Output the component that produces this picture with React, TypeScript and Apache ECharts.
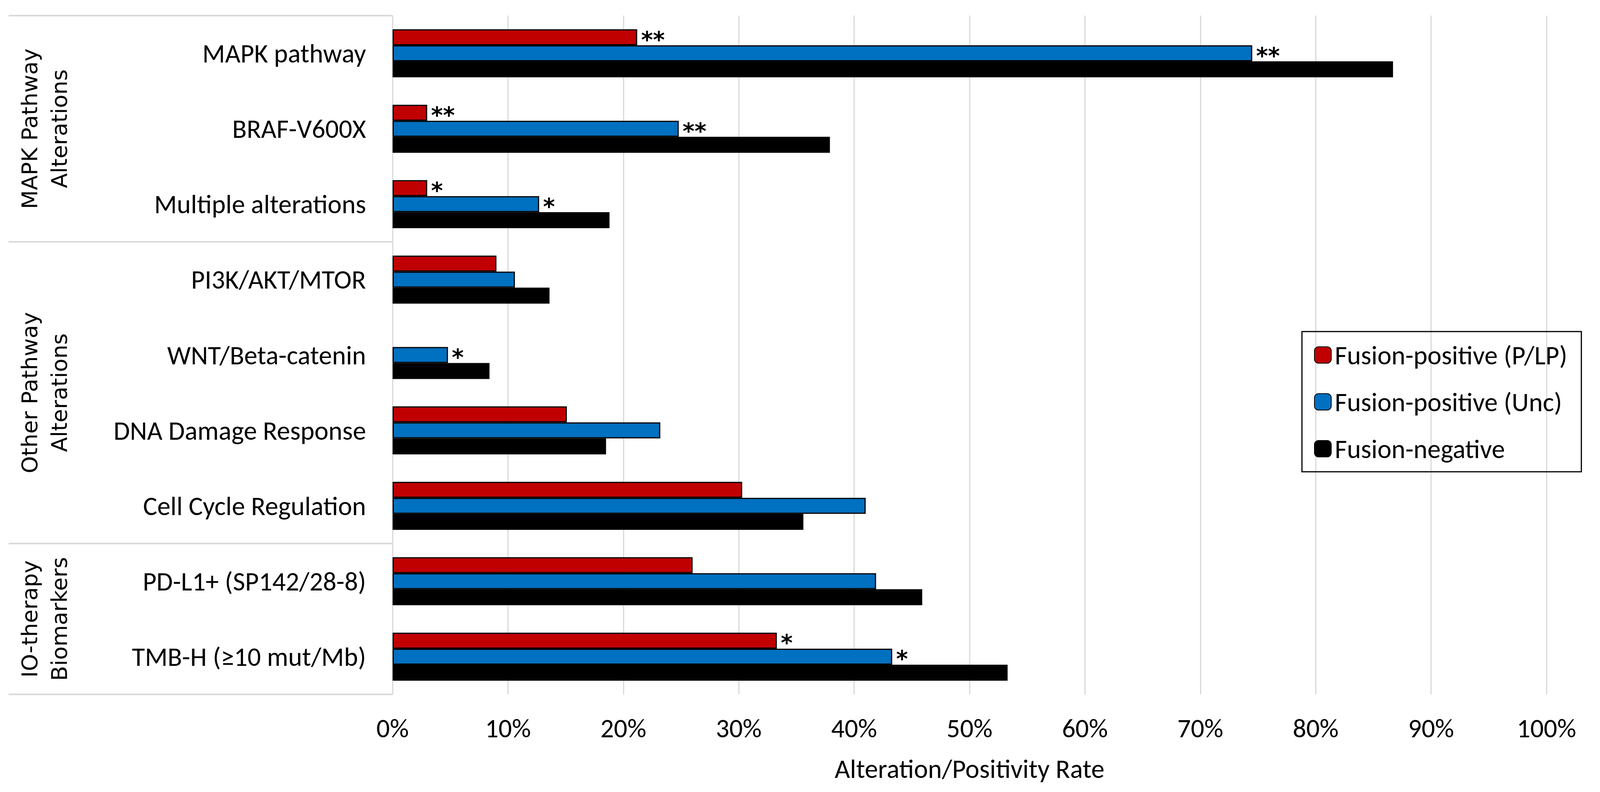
import React, { useEffect, useRef } from "react";
import * as echarts from "echarts";

const categories = [
  "MAPK pathway",
  "BRAF-V600X",
  "Multiple alterations",
  "PI3K/AKT/MTOR",
  "WNT/Beta-catenin",
  "DNA Damage Response",
  "Cell Cycle Regulation",
  "PD-L1+ (SP142/28-8)",
  "TMB-H (≥10 mut/Mb)",
];
const seriesNames = ["Fusion-positive (P/LP)", "Fusion-positive (Unc)", "Fusion-negative"];
const fusionPosPLP: (number | null)[] = [21.2, 3.0, 3.0, 9.0, null, 15.1, 30.3, 26.0, 33.3];
const fusionPosUnc: (number | null)[] = [74.5, 24.8, 12.7, 10.6, 4.8, 23.2, 41.0, 41.9, 43.3];
const fusionNeg: (number | null)[] = [86.7, 37.9, 18.8, 13.6, 8.4, 18.5, 35.6, 45.9, 53.3];
const starsPLP = ["**", "**", "*", "", "", "", "", "", "*"];
const starsUnc = ["**", "**", "*", "", "*", "", "", "", "*"];
const starsNeg = ["", "", "", "", "", "", "", "", ""];
const colors = ["#C00000", "#0070C0", "#000000"];
const xMin = 0;
const xMax = 100;
const xStep = 10;
const xTitle = "Alteration/Positivity Rate";
const groups = [
  { lines: ["MAPK Pathway", "Alterations"], start: 0, end: 3 },
  { lines: ["Other Pathway", "Alterations"], start: 3, end: 7 },
  { lines: ["IO-therapy", "Biomarkers"], start: 7, end: 9 },
];

const W = 4104;
const H = 2028;
const GRID = { left: 1005, right: 145, top: 40, bottom: 250 };
const FONT = "Carlito, Lato, sans-serif";

export default function App() {
  const ref = useRef<HTMLDivElement>(null);
  useEffect(() => {
    if (!ref.current) return;
    const chart = echarts.init(ref.current, undefined, { renderer: "svg" });
    const plotH = H - GRID.top - GRID.bottom;
    const band = plotH / categories.length;
    const boundaries = Array.from(new Set(groups.flatMap((g) => [g.start, g.end])));
    const graphics: any[] = [];
    boundaries.forEach((b) => {
      const y = GRID.top + b * band;
      graphics.push({
        type: "line",
        shape: { x1: 22, y1: y, x2: GRID.left, y2: y },
        style: { stroke: "#d9d9d9", lineWidth: 4 },
        silent: true,
      });
    });
    groups.forEach((g) => {
      const yc = GRID.top + ((g.start + g.end) / 2) * band;
      graphics.push({
        type: "text",
        x: 113,
        y: yc,
        rotation: Math.PI / 2,
        style: {
          text: g.lines.join("\n"),
          fontSize: 56,
          fontFamily: "DejaVu Sans",
          fill: "#000",
          align: "center",
          verticalAlign: "middle",
          lineHeight: 76,
        },
        silent: true,
      });
    });

    const mk = (name: string, data: (number | null)[], stars: string[], color: string) => ({
      name,
      type: "bar",
      data: data.map((v, i) => ({
        value: v,
        label: { show: !!stars[i] && v !== null },
      })),
      barWidth: 41,
      barGap: "0%",
      itemStyle: { color, borderColor: "#000", borderWidth: 3 },
      label: {
        show: false,
        position: "right",
        distance: 10,
        formatter: (p: any) => stars[p.dataIndex] || "",
        fontSize: 58,
        fontWeight: "bold",
        fontFamily: "DejaVu Sans",
        color: "#000",
        offset: [0, 6],
      },
    });

    chart.setOption({
      animation: false,
      backgroundColor: "#fff",
      grid: { ...GRID, containLabel: false },
      legend: {
        orient: "vertical",
        left: 3333,
        top: 849,
        padding: [26, 36, 25, 31],
        borderColor: "#000",
        borderWidth: 3,
        itemWidth: 43,
        itemHeight: 42,
        itemGap: 52,
        textStyle: { fontSize: 68, fontFamily: FONT, color: "#000", lineHeight: 68, padding: [0, 0, 0, 4] },
        data: seriesNames,
      },
      xAxis: {
        type: "value",
        min: xMin,
        max: xMax,
        interval: xStep,
        name: xTitle,
        nameLocation: "middle",
        nameGap: 156,
        nameTextStyle: { fontSize: 68, fontFamily: FONT, color: "#000" },
        axisLine: { show: false },
        axisTick: { show: false },
        axisLabel: { formatter: "{value}%", fontSize: 68, fontFamily: FONT, color: "#000", margin: 52 },
        splitLine: { show: true, lineStyle: { color: "#d9d9d9", width: 3 } },
      },
      yAxis: {
        type: "category",
        data: categories,
        inverse: true,
        axisLine: { show: false },
        axisTick: { show: false },
        axisLabel: { fontSize: 68, fontFamily: FONT, color: "#000", margin: 68 },
      },
      series: [
        mk(seriesNames[0], fusionPosPLP, starsPLP, colors[0]),
        mk(seriesNames[1], fusionPosUnc, starsUnc, colors[1]),
        mk(seriesNames[2], fusionNeg, starsNeg, colors[2]),
      ],
      graphic: graphics,
    });
    return () => chart.dispose();
  }, []);
  return (
    <div
      ref={ref}
      style={{ position: "absolute", left: 0, top: 0, width: W, height: H, background: "#fff" }}
    />
  );
}
